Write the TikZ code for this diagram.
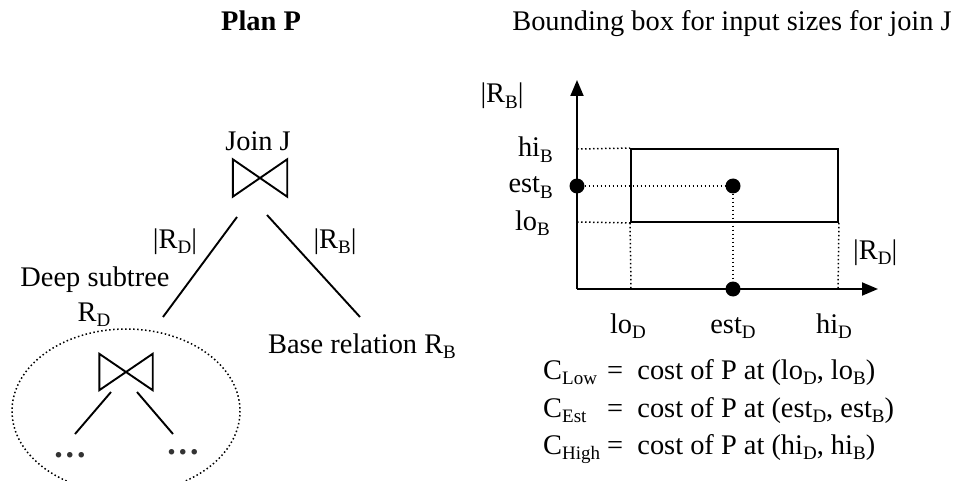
\documentclass[tikz,border=0pt]{standalone}
\usepackage{fontspec}
\setmainfont{Liberation Serif}
\usetikzlibrary{arrows.meta}
\newcommand{\subx}[1]{\raisebox{-0.2em}{\fontsize{19}{19}\selectfont #1}}
\begin{document}
\begin{tikzpicture}[x=1pt,y=-1pt,
  txt/.style={font=\fontsize{28.4}{34}\selectfont, inner sep=0pt, anchor=base},
  boldtxt/.style={font=\fontsize{28.4}{34}\selectfont\bfseries, inner sep=0pt, anchor=base},
  dotstxt/.style={font=\fontsize{34}{34}\selectfont\bfseries, text=black!80, inner sep=0pt, anchor=base},
  solidline/.style={line width=1.9pt},
  dotline/.style={line width=1.5pt, dash pattern=on 1.5pt off 2.5pt},
  bowtie/.style={minimum width=54pt, minimum height=37pt, inner sep=0pt},
  bigdot/.style={circle, fill=black, minimum size=15pt, inner sep=0pt},
  axisarrow/.style={line width=1.9pt, -{Triangle[length=16pt,width=13pt]}},
]
\useasboundingbox (0,0) rectangle (955,481);

% titles
\node[boldtxt] (plan) at (261,31) {Plan P};
\node[txt] (bbtitle) at (732,31) {Bounding box for input sizes for join J};

% left tree
\node[txt] (joinlbl) at (258,151) {Join J};
\node[bowtie] (J) at (260,178) {};
\draw[solidline] (J.north west) -- (J.south west) -- (J.north east) -- (J.south east) -- cycle;

\node[txt] (rdl) at (175,248) {|R\subx{D}|};
\node[txt] (rbl) at (335,248) {|R\subx{B}|};
\node[txt] (deep) at (95,286) {Deep subtree};
\node[txt] (rdsub) at (94,321) {R\subx{D}};
\node[txt] (base) at (362,353) {Base relation R\subx{B}};

\coordinate (jleft) at (237,217);
\coordinate (jright) at (267,215);
\coordinate (dtop) at (163,317);
\coordinate (btop) at (360,317);
\draw[solidline] (jleft) -- (dtop);
\draw[solidline] (jright) -- (btop);

\draw[dotline] (126,411) ellipse [x radius=114, y radius=82];
\node[bowtie, minimum width=53pt, minimum height=36pt] (J2) at (126,372) {};
\draw[solidline] (J2.north west) -- (J2.south west) -- (J2.north east) -- (J2.south east) -- cycle;
\coordinate (j2l) at (111,392);
\coordinate (j2r) at (137,392);
\coordinate (l1) at (75,434);
\coordinate (l2) at (173,434);
\draw[solidline] (j2l) -- (l1);
\draw[solidline] (j2r) -- (l2);
\node[dotstxt] (dots1) at (70,457) {.\kern3pt.\kern3pt.};
\node[dotstxt] (dots2) at (183,454) {.\kern3pt.\kern3pt.};

% right plot
\coordinate (O) at (577,289);
\coordinate (ytip) at (577,80);
\coordinate (xtip) at (878,289);
\draw[axisarrow] (O) -- (ytip);
\draw[axisarrow] (O) -- (xtip);
\node[draw, solidline, minimum width=207pt, minimum height=73pt, inner sep=0pt] (box) at (734.5,185.5) {};
\coordinate (yhi) at (577,149);
\coordinate (ylo) at (577,222);
\coordinate (xlo) at (631,289);
\coordinate (xhi) at (838,289);
\draw[dotline] (yhi) -- (box.north west);
\draw[dotline] (ylo) -- (box.south west);
\draw[dotline] (box.south west) -- (xlo);
\draw[dotline] (box.south east) -- (xhi);
\node[bigdot] (eb) at (577,186) {};
\node[bigdot] (ee) at (733,186) {};
\node[bigdot] (ed) at (733,289) {};
\draw[dotline] (eb) -- (ee);
\draw[dotline] (ee) -- (ed);

\node[txt] (rby) at (502,103) {|R\subx{B}|};
\node[txt, anchor=base east] (hib) at (553,157) {hi\subx{B}};
\node[txt, anchor=base east] (estb) at (553,193) {est\subx{B}};
\node[txt, anchor=base east] (lob) at (550,230) {lo\subx{B}};
\node[txt, anchor=base west] (rdx) at (853,259) {|R\subx{D}|};
\node[txt] (lod) at (628,333) {lo\subx{D}};
\node[txt] (estd) at (733,333) {est\subx{D}};
\node[txt] (hid) at (834,333) {hi\subx{D}};

% cost equations
\node[txt, anchor=base west] (cl) at (543,379) {C\subx{Low}};
\node[txt, anchor=base west] (ce) at (543,417) {C\subx{Est}};
\node[txt, anchor=base west] (ch) at (543,454) {C\subx{High}};
\node[txt, anchor=base west] (rl) at (607,379) {=\ \ cost of P at (lo\subx{D}, lo\subx{B})};
\node[txt, anchor=base west] (re) at (607,417) {=\ \ cost of P at (est\subx{D}, est\subx{B})};
\node[txt, anchor=base west] (rh) at (607,454) {=\ \ cost of P at (hi\subx{D}, hi\subx{B})};
\end{tikzpicture}
\end{document}
